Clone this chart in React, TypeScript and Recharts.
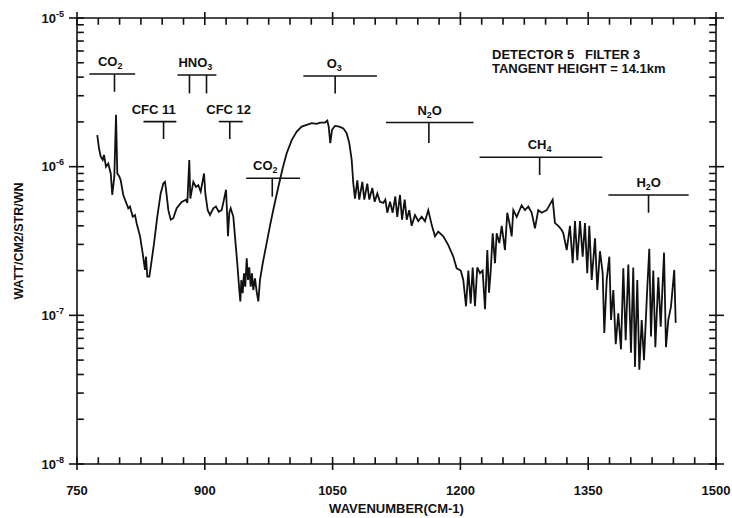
import { Line, LineChart, ReferenceArea, ReferenceDot, ReferenceLine, XAxis, YAxis } from "recharts";

// spectrum (cm-1, W/cm2/sr/cm-1)
const wavenumber = [
  773.8, 775.8, 777.8, 780.2, 781.7, 784, 786.7, 789.6, 791.4, 793.8, 795.8, 797.3, 799.6, 801.3, 804.3, 810.2,
  812.2, 815.4, 818.1, 820, 824, 827.1, 829.8, 831, 832.5, 834.9, 836.5, 840.4, 844.2, 848.2, 851.3, 853.3,
  854.5, 857.2, 860, 863, 867, 872.9, 877.9, 879.5, 881.8, 883, 886.5, 889.7, 892.4, 895.2, 899.1, 900.6,
  903.4, 906.1, 910, 913.1, 916.3, 919.8, 922.5, 924.9, 926, 927.2, 928.8, 930.4, 933.5, 935.4, 938.1, 940.5,
  941.7, 942.9, 944.5, 946, 947.5, 949.2, 950.7, 952.2, 953.9, 955.4, 956.9, 958.9, 960.9, 962.8, 964.8, 968,
  971.8, 976.5, 981.2, 986.3, 991.4, 996.1, 1002, 1007.9, 1013.7, 1019.6, 1025.5, 1031.3, 1035.2, 1041.1, 1043.8, 1045.4,
  1047.3, 1049.3, 1052.8, 1057.9, 1062.6, 1066.5, 1069.6, 1072.4, 1074.3, 1076.3, 1079, 1081.3, 1084.9, 1087.2, 1090.7, 1093.1,
  1096.6, 1099.4, 1102.5, 1105.6, 1109.5, 1111.9, 1114.2, 1117.4, 1120.5, 1123.6, 1125.9, 1129.1, 1131.5, 1134.6, 1137, 1140,
  1142.8, 1146.7, 1150.6, 1154.6, 1158.4, 1162.3, 1166.3, 1170.2, 1174, 1179.9, 1185.8, 1191.7, 1195.6, 1200.4, 1203.4, 1206.6,
  1209.3, 1212.1, 1214.4, 1217.1, 1219.8, 1223, 1226.1, 1228.9, 1231.6, 1233.6, 1235.6, 1237.9, 1240.6, 1242.6, 1245.7, 1248.5,
  1252.3, 1255, 1258.2, 1260.2, 1262.1, 1266.1, 1271.9, 1275.8, 1279.7, 1283.7, 1287.5, 1291.4, 1295.4, 1301.3, 1308.3, 1311,
  1314.9, 1318.9, 1320.8, 1324.8, 1328.6, 1331.8, 1334.5, 1337.2, 1340.4, 1343.5, 1346.2, 1348.9, 1351.3, 1354.1, 1358, 1360.7,
  1363.8, 1367, 1368.9, 1371.7, 1374.8, 1376.8, 1379.5, 1382.3, 1385.3, 1388.5, 1391.2, 1394, 1397.1, 1400.2, 1402.9, 1404.9,
  1407.6, 1410, 1412.8, 1415.5, 1419.4, 1421.7, 1423.7, 1426.4, 1428.8, 1432.3, 1435.1, 1439, 1441.3, 1444, 1447.2, 1451,
  1452.7,
];
const radiance = [
  1.63e-6, 1.33e-6, 1.17e-6, 1.11e-6, 1.2e-6, 1.0e-6, 1.05e-6, 9.0e-7, 6.45e-7, 8.6e-7, 2.23e-6, 9.0e-7, 8.6e-7, 8.1e-7, 6.45e-7, 5.25e-7,
  5.4e-7, 4.6e-7, 4.73e-7, 4.16e-7, 3.4e-7, 2.61e-7, 2.02e-7, 2.48e-7, 1.82e-7, 1.82e-7, 2.1e-7, 3.05e-7, 4.6e-7, 6.6e-7, 7.7e-7, 7.9e-7,
  7.0e-7, 5.1e-7, 4.4e-7, 4.5e-7, 5.25e-7, 5.8e-7, 6.0e-7, 5.7e-7, 1.11e-6, 6.1e-7, 7.9e-7, 7.3e-7, 7.5e-7, 6.8e-7, 9.0e-7, 6.6e-7,
  5.1e-7, 4.73e-7, 5.25e-7, 5.4e-7, 4.98e-7, 5.1e-7, 6.0e-7, 7.0e-7, 5.1e-7, 3.4e-7, 4.9e-7, 5.25e-7, 4.6e-7, 3.4e-7, 2.24e-7, 1.48e-7,
  1.24e-7, 1.73e-7, 1.41e-7, 1.92e-7, 1.56e-7, 2.42e-7, 1.73e-7, 2.1e-7, 1.56e-7, 1.92e-7, 1.48e-7, 1.77e-7, 1.44e-7, 1.24e-7, 1.73e-7, 2.24e-7,
  2.9e-7, 4.0e-7, 5.4e-7, 7.3e-7, 9.75e-7, 1.23e-6, 1.51e-6, 1.72e-6, 1.86e-6, 1.91e-6, 1.96e-6, 1.94e-6, 1.98e-6, 1.98e-6, 2.04e-6, 1.86e-6,
  1.44e-6, 1.77e-6, 1.88e-6, 1.86e-6, 1.81e-6, 1.68e-6, 1.44e-6, 1.11e-6, 7.7e-7, 6.1e-7, 8.1e-7, 6.0e-7, 7.9e-7, 6.0e-7, 7.7e-7, 6.0e-7,
  7.2e-7, 5.8e-7, 6.6e-7, 5.8e-7, 5.7e-7, 6.0e-7, 4.9e-7, 5.8e-7, 4.9e-7, 6.3e-7, 4.6e-7, 6.45e-7, 4.4e-7, 6.0e-7, 4.4e-7, 5.1e-7,
  4.0e-7, 4.73e-7, 4.3e-7, 4.6e-7, 4.3e-7, 5.1e-7, 4.06e-7, 3.4e-7, 3.66e-7, 3.4e-7, 2.97e-7, 2.48e-7, 2.07e-7, 2.0e-7, 1.73e-7, 1.15e-7,
  2.0e-7, 1.2e-7, 2.1e-7, 1.15e-7, 2.1e-7, 1.92e-7, 2.0e-7, 1.1e-7, 2.75e-7, 1.42e-7, 2.0e-7, 3.56e-7, 2.24e-7, 3.56e-7, 3.06e-7, 4.0e-7,
  2.75e-7, 4.9e-7, 4.0e-7, 3.4e-7, 5.1e-7, 4.6e-7, 5.5e-7, 5.1e-7, 5.4e-7, 4.9e-7, 3.85e-7, 5.1e-7, 4.9e-7, 5.1e-7, 6.0e-7, 4.17e-7,
  4.0e-7, 3.75e-7, 3.56e-7, 2.75e-7, 4.0e-7, 2.24e-7, 4.3e-7, 2.35e-7, 4.3e-7, 2.48e-7, 4.17e-7, 1.92e-7, 4.0e-7, 1.73e-7, 3.3e-7, 1.48e-7,
  2.7e-7, 1.92e-7, 7.6e-8, 1.73e-7, 2.48e-7, 9.3e-8, 1.48e-7, 6.4e-8, 1.03e-7, 5.9e-8, 2.07e-7, 6.8e-8, 2.2e-7, 5.6e-8, 2.1e-7, 4.5e-8,
  1.73e-7, 4.3e-8, 9.3e-8, 5.0e-8, 1.56e-7, 2.8e-7, 7.2e-8, 2.0e-7, 6.1e-8, 1.8e-7, 8.4e-8, 2.64e-7, 6.1e-8, 9.3e-8, 1.15e-7, 2.02e-7,
  8.9e-8,
];

// absorber markers: "_" marks a subscript digit
const markerLabels = ["CO_2", "HNO_3", "O_3", "CFC 11", "CFC 12", "CO_2", "N_2O", "CH_4", "H_2O"];
const markerLabelX = [789, 889, 1052, 840, 928, 971, 1164, 1293, 1421];
const markerFrom = [764.5, 868, 1015.7, 828, 916.4, 948.6, 1112.6, 1222.5, 1373.7];
const markerTo = [818.3, 913.6, 1102, 866.6, 944.6, 1011.7, 1215.4, 1366.6, 1467.9];
const markerLevel = [4.2e-6, 4.14e-6, 4.07e-6, 2.01e-6, 2.01e-6, 8.36e-7, 1.98e-6, 1.156e-6, 6.45e-7];
const markerTickEnd = [3.19e-6, 3.11e-6, 3.11e-6, 1.535e-6, 1.535e-6, 6.28e-7, 1.44e-6, 8.79e-7, 4.9e-7];
const markerTicks = [[794], [882, 902], [1053], [851.6], [929.3], [979.2], [1163], [1293], [1420.8]];

const xTicks = [750, 900, 1050, 1200, 1350, 1500];
const xMinorStep = 25;
const yTicks = [1e-8, 1e-7, 1e-6, 1e-5];

const X0 = 750;
const X1 = 1500;
const Y0 = 1e-8;
const Y1 = 1e-5;
// minor tick length, in axis units (~7px)
const TICK_DX = 8;
const TICK_FY = 1.11;

const data = wavenumber.map((wn, i) => ({ wn, v: radiance[i] }));
const xMinor = Array.from({ length: (X1 - X0) / xMinorStep + 1 }, (_, i) => X0 + i * xMinorStep).filter(
  (v) => !xTicks.includes(v)
);
const yMinor = yTicks.slice(0, -1).flatMap((d) => [2, 3, 4, 5, 6, 7, 8, 9].map((k) => k * d));

const FONT = "'Liberation Sans', Arial, Helvetica, sans-serif";
const INK = "#111";

function XLabel({ x, y, payload }: any) {
  return (
    <text x={x} y={y + 30.5} textAnchor="middle" fill={INK} fontSize={13} fontWeight="bold" fontFamily={FONT}>
      {payload.value}
    </text>
  );
}

function YLabel({ x, y, payload }: any) {
  const exp = Math.round(Math.log10(payload.value));
  return (
    <text x={x - 13} y={y + 4.5} textAnchor="end" fill={INK} fontSize={13} fontWeight="bold" fontFamily={FONT}>
      10
      <tspan dy={-6} fontSize={9}>
        {exp}
      </tspan>
    </text>
  );
}

// major tick marks on the frame, drawn from a reference line's end points
const xMark = (p: any) => {
  const top = Math.min(p.y1, p.y2);
  const bot = Math.max(p.y1, p.y2);
  return (
    <g stroke={INK} strokeWidth={1.6}>
      <line x1={p.x1} x2={p.x1} y1={bot - 7} y2={bot + 6} />
      <line x1={p.x1} x2={p.x1} y1={top - 6} y2={top + 7} />
    </g>
  );
};

const yMark = (p: any) => {
  const l = Math.min(p.x1, p.x2);
  const r = Math.max(p.x1, p.x2);
  return (
    <g stroke={INK} strokeWidth={1.6}>
      <line x1={l - 8} x2={l + 7} y1={p.y1} y2={p.y1} />
      <line x1={r - 7} x2={r + 8} y1={p.y1} y2={p.y1} />
    </g>
  );
};

function markerText(label: string) {
  const parts = label.split(/_(\d)/);
  let sub = false;
  return parts.map((p, i) => {
    if (i % 2 === 1) {
      sub = true;
      return (
        <tspan key={i} dy={3} fontSize={9}>
          {p}
        </tspan>
      );
    }
    if (!p) return null;
    const back = sub ? -3 : 0;
    sub = false;
    return (
      <tspan key={i} dy={back}>
        {p}
      </tspan>
    );
  });
}

const seg = (key: string, a: [number, number], b: [number, number], w = 1.6) => (
  <ReferenceLine
    key={key}
    segment={[
      { x: a[0], y: a[1] },
      { x: b[0], y: b[1] },
    ]}
    stroke={INK}
    strokeWidth={w}
    ifOverflow="visible"
  />
);

export default function App() {
  return (
    <div style={{ position: "absolute", left: 0, top: 0, width: 732, height: 518, fontFamily: FONT }}>
      <LineChart width={732} height={518} data={data} margin={{ top: 18, right: 16, bottom: 0, left: 0 }}>
        <XAxis
          dataKey="wn"
          type="number"
          domain={[X0, X1]}
          allowDataOverflow
          ticks={xTicks}
          interval={0}
          tickSize={0}
          tickMargin={0}
          tickLine={false}
          axisLine={false}
          tick={XLabel}
          height={54}
          label={({ viewBox }: any) => (
            <text x={viewBox.x + viewBox.width / 2} y={viewBox.y + 48.5} textAnchor="middle" fill={INK} fontSize={13} fontWeight="bold" fontFamily={FONT}>
              WAVENUMBER(CM-1)
            </text>
          )}
        />
        <YAxis
          type="number"
          scale="log"
          domain={[Y0, Y1]}
          allowDataOverflow
          ticks={yTicks}
          interval={0}
          tickSize={0}
          tickMargin={0}
          tickLine={false}
          axisLine={false}
          tick={YLabel}
          width={77}
          label={({ viewBox }: any) => {
            const cy = viewBox.y + viewBox.height / 2;
            return (
              <text x={23} y={cy} transform={`rotate(-90, 23, ${cy})`} textAnchor="middle" fill={INK} fontSize={12.5} fontWeight="bold" fontFamily={FONT}>
                WATT/CM2/STR/WN
              </text>
            );
          }}
        />
        <ReferenceArea x1={X0} x2={X1} y1={Y0} y2={Y1} fill="none" stroke={INK} strokeWidth={1.6} ifOverflow="visible" />
        {xTicks.map((v) => (
          <ReferenceLine key={`xM${v}`} x={v} shape={xMark} ifOverflow="visible" />
        ))}
        {yTicks.map((v) => (
          <ReferenceLine key={`yM${v}`} y={v} shape={yMark} ifOverflow="visible" />
        ))}
        {xMinor.map((v) => seg(`xb${v}`, [v, Y0], [v, Y0 * TICK_FY], 1.6))}
        {xMinor.map((v) => seg(`xt${v}`, [v, Y1], [v, Y1 / TICK_FY], 1.6))}
        {yMinor.map((v) => seg(`yl${v}`, [X0, v], [X0 + TICK_DX, v], 1.6))}
        {yMinor.map((v) => seg(`yr${v}`, [X1 - TICK_DX, v], [X1, v], 1.6))}
        {markerLabels.map((_, i) => seg(`h${i}`, [markerFrom[i], markerLevel[i]], [markerTo[i], markerLevel[i]]))}
        {markerTicks.flatMap((ts, i) => ts.map((t, j) => seg(`t${i}-${j}`, [t, markerLevel[i]], [t, markerTickEnd[i]])))}
        {markerLabels.map((label, i) => (
          <ReferenceDot
            key={`l${i}`}
            x={markerLabelX[i]}
            y={markerLevel[i]}
            r={0}
            fill="none"
            stroke="none"
            label={({ viewBox }: any) => (
              <text x={viewBox.x} y={viewBox.y - 8} textAnchor="middle" fill={INK} fontSize={13} fontWeight="bold" fontFamily={FONT}>
                {markerText(label)}
              </text>
            )}
          />
        ))}
        <Line type="linear" dataKey="v" stroke={INK} strokeWidth={1.8} dot={false} isAnimationActive={false} />
      </LineChart>
      <div
        style={{
          position: "absolute",
          left: 492,
          top: 48,
          fontSize: 13,
          lineHeight: "14px",
          fontWeight: "bold",
          color: INK,
          whiteSpace: "pre",
        }}
      >
        {"DETECTOR 5   FILTER 3\nTANGENT HEIGHT = 14.1km"}
      </div>
    </div>
  );
}
